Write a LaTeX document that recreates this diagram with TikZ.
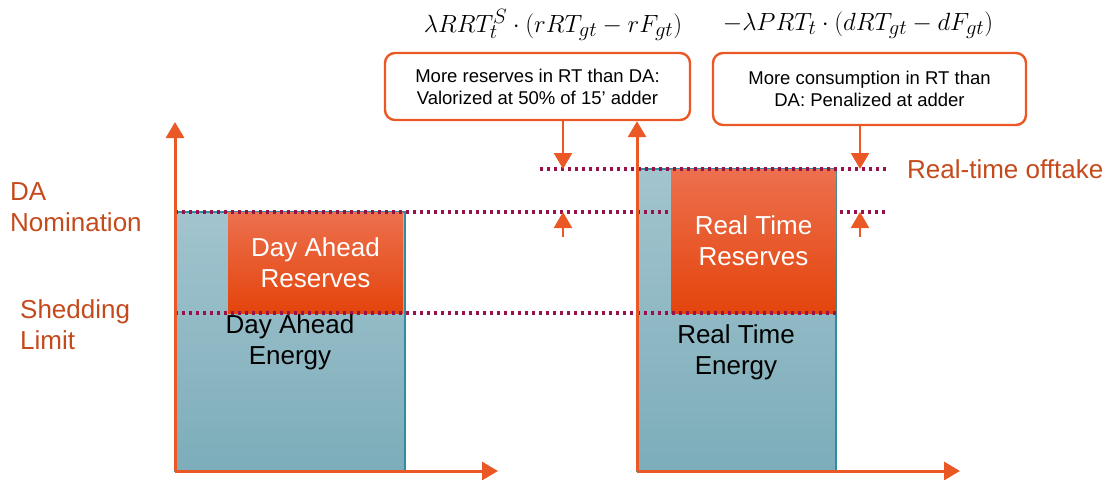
\documentclass[tikz,border=0pt]{standalone}
\usepackage{fontspec}
\setmainfont{Liberation Sans}
\usetikzlibrary{positioning,arrows.meta}
\definecolor{axisorange}{RGB}{234,88,38}
\definecolor{labelbrown}{RGB}{196,74,28}
\definecolor{levelred}{RGB}{150,18,72}
\definecolor{tealtop}{RGB}{162,196,206}
\definecolor{tealbot}{RGB}{124,173,186}
\definecolor{tealedge}{RGB}{48,140,160}
\definecolor{restop}{RGB}{236,112,78}
\definecolor{resbot}{RGB}{228,68,12}

\begin{document}
\begin{tikzpicture}[x=1pt,y=-1pt,every node/.style={font=\fontsize{26}{31}\selectfont,inner sep=0pt},
    energy/.style={anchor=north west,outer sep=0pt,top color=tealtop,bottom color=tealbot,draw=tealedge,line width=1.2pt},
    reserve/.style={anchor=north west,outer sep=0pt,top color=restop,bottom color=resbot,text=white,align=center},
    callout/.style={draw=axisorange,line width=2.4pt,rounded corners=10pt,fill=white,align=center,font=\fontsize{18.5}{22}\selectfont},
    level/.style={levelred,line width=3.2pt,dash pattern=on 3.2pt off 3.8pt},
    axis/.style={axisorange,line width=3pt,-{Triangle[width=18pt,length=16pt]}},
    marker/.style={axisorange,line width=2.4pt,-{Triangle[width=18pt,length=16pt]}},
    sidelabel/.style={text=labelbrown,align=left,anchor=west}]
    \useasboundingbox (0,0) rectangle (1115,479);
    % energy blocks and reserve blocks
    \node[energy,minimum width=230pt,minimum height=259pt] (daE) at (175,212) {};
    \node[energy,minimum width=199pt,minimum height=302pt] (rtE) at (637,169) {};
    \node[reserve,minimum width=175pt,minimum height=101pt] (daR) at (228,212) {Day Ahead\\Reserves};
    \coordinate (nomL) at (175,212); \coordinate (nomR) at (887,212);
    \draw[level] (nomL) -- (nomR);
    \node[reserve,minimum width=165pt,minimum height=144pt] (rtR) at (671,169) {Real Time\\Reserves};
    \coordinate (shedL) at (175,313); \coordinate (shedR) at (838,313);
    \coordinate (offL) at (540,169); \coordinate (offR) at (887,169);
    \draw[level] (shedL) -- (shedR);
    \draw[level] (offL) -- (offR);
    \node[align=center] (daEtxt) at (290,342) {Day Ahead\\Energy};
    \node[align=center] (rtEtxt) at (736,352) {Real Time\\Energy};
    % callouts
    \node[callout,minimum width=305pt,minimum height=67pt] (lcall) at (537.5,86.5) {More reserves in RT than DA:\\Valorized at 50\% of 15’ adder};
    \node[callout,minimum width=313pt,minimum height=72pt] (rcall) at (869.5,89) {More consumption in RT than\\DA: Penalized at adder};
    \node[font=\fontsize{24.88}{30}\selectfont] (lform) at (553,25) {$\lambda RRT_t^S\cdot(rRT_{gt}-rF_{gt})$};
    \node[font=\fontsize{24.88}{30}\selectfont] (rform) at (858,25) {$-\lambda PRT_t\cdot(dRT_{gt}-dF_{gt})$};
    % axes
    \coordinate (o1) at (175,471); \coordinate (y1) at (175,122); \coordinate (x1) at (498,471);
    \coordinate (o2) at (637,471); \coordinate (x2) at (960,471);
    \draw[axis] (o1) -- (y1);
    \draw[axis] (o1) -- (x1);
    \draw[axis] (o2) -- (o2 |- lcall.south);
    \draw[axis] (o2) -- (x2);
    % markers
    \coordinate (lhi) at (563,169); \coordinate (llo) at (563,237);
    \coordinate (rhi) at (860,169); \coordinate (rlo) at (860,237);
    \draw[marker] (lcall.south -| lhi) -- (lhi);
    \draw[marker] (llo) -- (llo |- nomL);
    \draw[marker] (rcall.south -| rhi) -- (rhi);
    \draw[marker] (rlo) -- (rlo |- nomL);
    % labels
    \node[sidelabel] (nomlab) at (10,207) {DA\\Nomination};
    \node[sidelabel] (shedlab) at (20,325) {Shedding\\Limit};
    \node[sidelabel] (offlab) at (907,169) {Real-time offtake};
\end{tikzpicture}
\end{document}
